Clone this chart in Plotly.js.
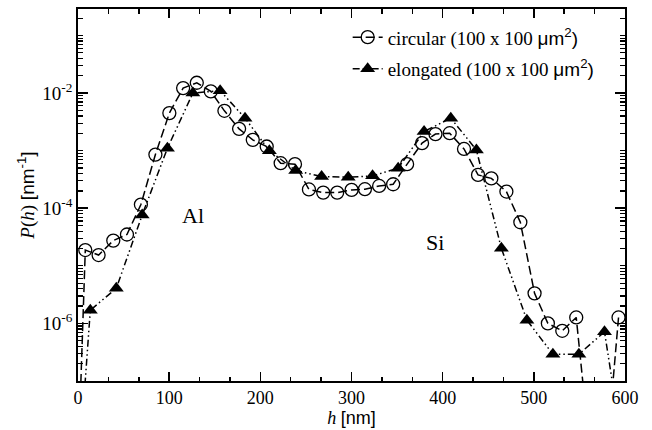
<!DOCTYPE html>
<html>
<head>
<meta charset="utf-8">
<script src="https://cdn.plot.ly/plotly-3.0.1.min.js"></script>
<style>html,body{margin:0;padding:0;background:#fff;}#chart{width:652px;height:430px;}</style>
</head>
<body>
<div id="chart"></div>
<script>
// circular (100 x 100 um^2) series
var circX = [-7.4, 8, 22.6, 38.7, 53.7, 69, 84.9, 100.2, 115.3, 130.3, 145.7, 160.6, 176.7, 191.7, 207, 222.3, 238, 253.3, 269, 284.3, 300.1, 314.7, 330.3, 345.7, 361, 377.4, 392.1, 407.7, 423.4, 438.8, 453.4, 469.9, 485.2, 500.8, 515.4, 531.2, 546.5, 562, 577, 592.9];
var circY = [1e-12, 1.88e-5, 1.54e-5, 2.74e-5, 3.50e-5, 1.16e-4, 8.55e-4, 4.49e-3, 1.22e-2, 1.51e-2, 1.07e-2, 4.92e-3, 2.39e-3, 1.54e-3, 1.18e-3, 6.06e-4, 5.83e-4, 2.12e-4, 1.87e-4, 1.87e-4, 2.08e-4, 2.14e-4, 2.44e-4, 2.61e-4, 5.83e-4, 1.35e-3, 1.94e-3, 2.01e-3, 1.07e-3, 3.79e-4, 3.30e-4, 1.95e-4, 5.71e-5, 3.33e-6, 1.0e-6, 7.44e-7, 1.27e-6, 5e-9, 1.5e-9, 1.27e-6];
// elongated (100 x 100 um^2) series
var triX = [-14.7, 13.5, 42, 70.4, 98.1, 126, 155.9, 183.2, 209.9, 238.8, 267.2, 296.4, 323.1, 351.2, 379.6, 408.9, 437, 464.4, 492.4, 520.9, 549.4, 577.5, 605.7];
var triY = [1e-12, 1.70e-6, 4.06e-6, 7.64e-5, 1.10e-3, 1.0e-2, 1.10e-2, 3.67e-3, 1.00e-3, 4.51e-4, 3.55e-4, 3.46e-4, 3.65e-4, 4.97e-4, 2.15e-3, 3.67e-3, 1.03e-3, 2.01e-5, 1.14e-6, 2.92e-7, 2.92e-7, 7.14e-7, 1e-9];

var seriesNames = [
  'circular (100 x 100 <span style="font-family:Liberation Sans">μm<sup>2</sup>)</span>',
  'elongated (100 x 100 <span style="font-family:Liberation Sans">μm<sup>2</sup>)</span>'
];
var yTickVals = [1e-6, 1e-4, 1e-2];
var yTickText = ['10<sup>-6</sup>', '10<sup>-4</sup>', '10<sup>-2</sup>'];
var labels = [{text: 'Al', x: 126.3, y: -4.13}, {text: 'Si', x: 391.3, y: -4.60}];

var SERIF = 'Liberation Serif, Times New Roman, serif';

var traces = [
  {
    x: circX, y: circY, name: seriesNames[0], legendgroup: 'a', type: 'scatter', mode: 'lines+markers',
    line: {color: '#000', width: 1.5, dash: '9px,4px'},
    marker: {symbol: 'circle-open', size: 13, color: '#000', line: {width: 1.3, color: '#000'}}
  },
  {
    x: triX, y: triY, name: seriesNames[1], legendgroup: 'b', type: 'scatter', mode: 'lines+markers',
    line: {color: '#000', width: 1.5, dash: '7px,3px,1.5px,3px,1.5px,3px'},
    marker: {symbol: 'triangle-up', size: 13, color: '#000', line: {width: 0}}
  }
];

var layout = {
  width: 652, height: 430,
  margin: {l: 78, r: 26.5, t: 9.3, b: 49.3},
  paper_bgcolor: '#fff', plot_bgcolor: '#fff',
  font: {family: SERIF, size: 18, color: '#000'},
  showlegend: true,
  legend: {x: 0.493, y: 0.975, xanchor: 'left', yanchor: 'top', bgcolor: 'rgba(0,0,0,0)',
           traceorder: 'grouped', tracegroupgap: 4,
           font: {family: SERIF, size: 19, color: '#000'}, itemwidth: 30},
  xaxis: {
    range: [0, 600], dtick: 100, tick0: 0,
    showline: true, linecolor: '#000', linewidth: 1.8, mirror: 'allticks',
    ticks: 'inside', ticklen: 9, tickwidth: 1.5, tickcolor: '#000',
    minor: {dtick: 100/3, ticklen: 4.5, tickwidth: 1.5, tickcolor: '#000', ticks: 'inside'},
    showgrid: false, zeroline: false,
    tickfont: {family: SERIF, size: 18},
    title: {text: '<i>h</i> <span style="font-family:Liberation Sans">[nm]</span>', font: {family: SERIF, size: 18}, standoff: 4}
  },
  yaxis: {
    type: 'log', range: [-7, -0.54], tickmode: 'array', tickvals: yTickVals, ticktext: yTickText,
    showline: true, linecolor: '#000', linewidth: 1.8, mirror: 'allticks',
    ticks: 'inside', ticklen: 10, tickwidth: 1.5, tickcolor: '#000',
    minor: {dtick: 'D1', ticklen: 5, tickwidth: 1.2, tickcolor: '#000', ticks: 'inside'},
    showgrid: false, zeroline: false,
    tickfont: {family: SERIF, size: 19},
    title: {text: '<i>P</i>(<i>h</i>) <span style="font-family:Liberation Sans">[nm<sup>-1</sup>]</span>', font: {family: SERIF, size: 19}, standoff: 3}
  },
  annotations: labels.map(function (l) {
    return {text: l.text, x: l.x, y: l.y, xref: 'x', yref: 'y', showarrow: false,
            font: {family: SERIF, size: 22, color: '#000'}};
  })
};

Plotly.newPlot('chart', traces, layout, {displayModeBar: false, staticPlot: true});
</script>
</body>
</html>
